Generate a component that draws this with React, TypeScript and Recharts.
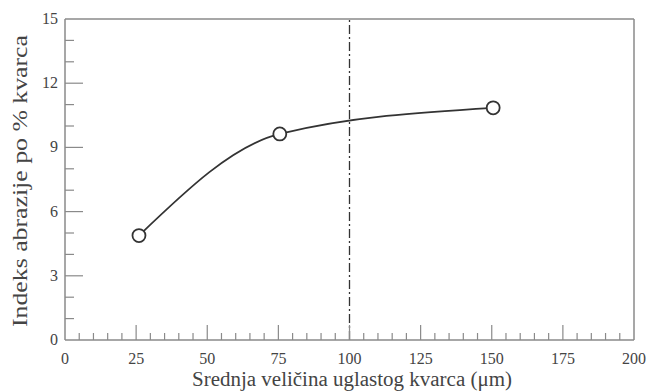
import { LineChart, Line, XAxis, YAxis, ReferenceLine, Label } from 'recharts';

// mean angular quartz size (µm) vs abrasion index per % quartz
const grainSize = [26, 75.5, 150.5];
const abrasionIndex = [4.88, 9.63, 10.85];

const xMajor = [0, 25, 50, 75, 100, 125, 150, 175, 200];
const yMajor = [0, 3, 6, 9, 12, 15];
const xTicks = Array.from({ length: 41 }, (_, i) => i * 5);
const yTicks = Array.from({ length: 16 }, (_, i) => i);

const data = grainSize.map((x, i) => ({ x, y: abrasionIndex[i] }));

const FONT = '"Liberation Serif", serif';
const TEXT = '#444';
const AXIS = '#8a8a8a';

function XTick({ x, y, payload }: any) {
  const major = xMajor.includes(payload.value);
  return (
    <g>
      {payload.value > 0 && payload.value < 200 && (
        <line x1={x} x2={x} y1={y} y2={y - (major ? 15 : 7)} stroke={AXIS} strokeWidth={1.2} />
      )}
      {major && (
        <text x={x} y={y + 24} textAnchor="middle" fontFamily={FONT} fontSize={16} fill={TEXT}>
          {payload.value}
        </text>
      )}
    </g>
  );
}

function YTick({ x, y, payload }: any) {
  const major = yMajor.includes(payload.value);
  return (
    <g>
      {payload.value > 0 && payload.value < 15 && (
        <line x1={x} x2={x + (major ? 18 : 9)} y1={y} y2={y} stroke={AXIS} strokeWidth={1.2} />
      )}
      {major && (
        <text x={x - 7} y={y + 5} textAnchor="end" fontFamily={FONT} fontSize={16} fill={TEXT}>
          {payload.value}
        </text>
      )}
    </g>
  );
}

export default function App() {
  return (
    <div style={{ position: 'absolute', left: 0, top: 0, background: '#fff' }}>
      <LineChart width={649} height={392} data={data} margin={{ top: 19, right: 15, bottom: 0, left: 0 }}>
        <XAxis
          dataKey="x"
          type="number"
          domain={[0, 200]}
          ticks={xTicks}
          interval={0}
          tick={<XTick />}
          tickLine={false}
          tickSize={0}
          tickMargin={0}
          axisLine={{ stroke: AXIS, strokeWidth: 1.5 }}
          height={52}
        >
          <Label
            content={() => (
              <text
                x={352}
                y={386}
                textAnchor="middle"
                fontFamily={FONT}
                fontSize={20}
                fill={TEXT}
                textLength={320}
                lengthAdjust="spacingAndGlyphs"
              >
                Srednja veličina uglastog kvarca (μm)
              </text>
            )}
          />
        </XAxis>
        <YAxis
          type="number"
          domain={[0, 15]}
          ticks={yTicks}
          interval={0}
          tick={<YTick />}
          tickLine={false}
          tickSize={0}
          tickMargin={0}
          axisLine={{ stroke: AXIS, strokeWidth: 1.5 }}
          width={65}
        >
          <Label
            content={() => (
              <text
                x={20}
                y={181}
                transform="rotate(-90 20 181)"
                textAnchor="middle"
                dominantBaseline="central"
                fontFamily={FONT}
                fontSize={20}
                fill={TEXT}
                textLength={292}
                lengthAdjust="spacingAndGlyphs"
              >
                Indeks abrazije po % kvarca
              </text>
            )}
          />
        </YAxis>
        <ReferenceLine y={15} stroke={AXIS} strokeWidth={1.5} />
        <ReferenceLine x={200} stroke={AXIS} strokeWidth={1.5} />
        <ReferenceLine x={100} stroke="#333" strokeWidth={1.3} strokeDasharray="9 3 2 3" />
        <Line
          type="monotone"
          dataKey="y"
          stroke="#333"
          strokeWidth={1.8}
          dot={{ r: 6.5, fill: '#fff', stroke: '#333', strokeWidth: 1.8 }}
          isAnimationActive={false}
        />
      </LineChart>
    </div>
  );
}
